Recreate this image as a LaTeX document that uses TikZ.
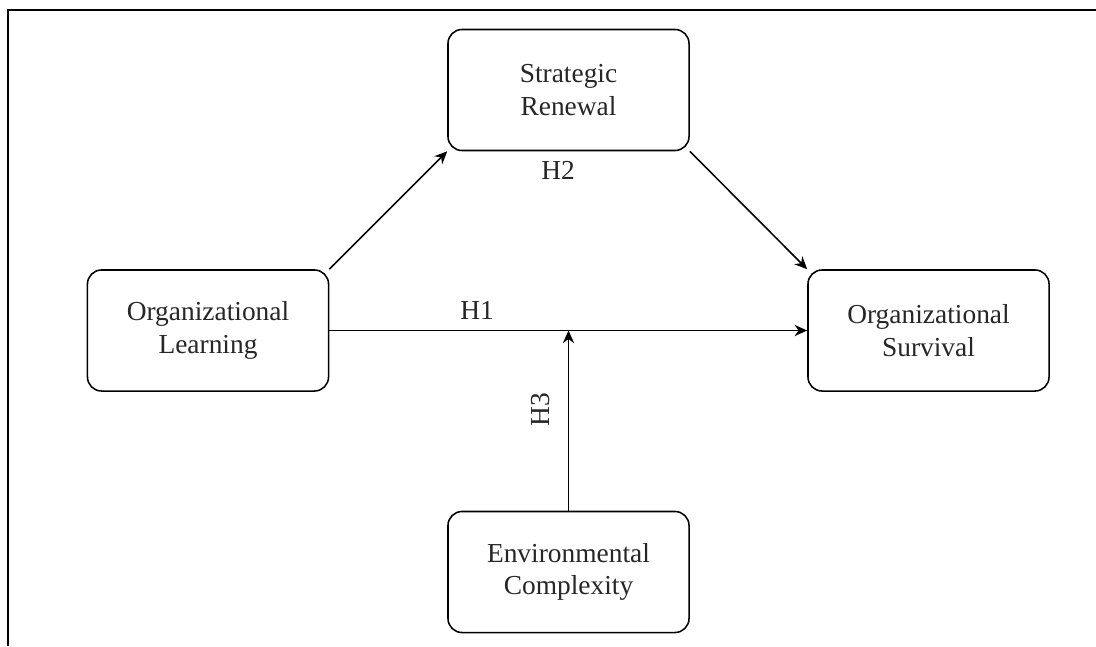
\documentclass[tikz,border=0pt]{standalone}
\usepackage{fontspec}
\setmainfont{Liberation Serif}
\usetikzlibrary{arrows.meta}

\tikzset{
  varbox/.style={draw, line width=1.1pt, rounded corners=10pt,
    minimum width=6.025cm, minimum height=3.025cm, align=center,
    font=\fontsize{19.5}{23}\selectfont, text=black!85},
  hlabel/.style={font=\fontsize{19.5}{23}\selectfont, text=black!85},
  link/.style={line width=1.1pt, -{Stealth[length=9pt,width=8pt]}}
}

\begin{document}
\begin{tikzpicture}[x=0.025cm, y=-0.025cm]
\useasboundingbox (0,0) rectangle (1096,646);

% The frame
\draw[line width=1.5pt] (8,646) -- (8,10) -- (1096,10);

% The variables
\node[varbox] (sr) at (568.5, 90) {Strategic\\Renewal};
\node[varbox] (ol) at (208, 330.5) {Organizational\\Learning};
\node[varbox] (os) at (928.5, 330.5) {Organizational\\Survival};
\node[varbox] (ec) at (568.5, 572) {Environmental\\Complexity};

% The paths
\draw[link] (ol.north east) -- (sr.south west);
\draw[link] (sr.south east) -- (os.north west);
\draw[link] (ol.east) -- (os.west);
\draw[link] (ec.north) -- (ec.north |- ol.east);

% Labels
\node[hlabel] (h1) at (477, 310) {H1};
\node[hlabel] (h2) at (558, 170) {H2};
\node[hlabel, rotate=90] (h3) at (541, 410) {H3};

\end{tikzpicture}
\end{document}
